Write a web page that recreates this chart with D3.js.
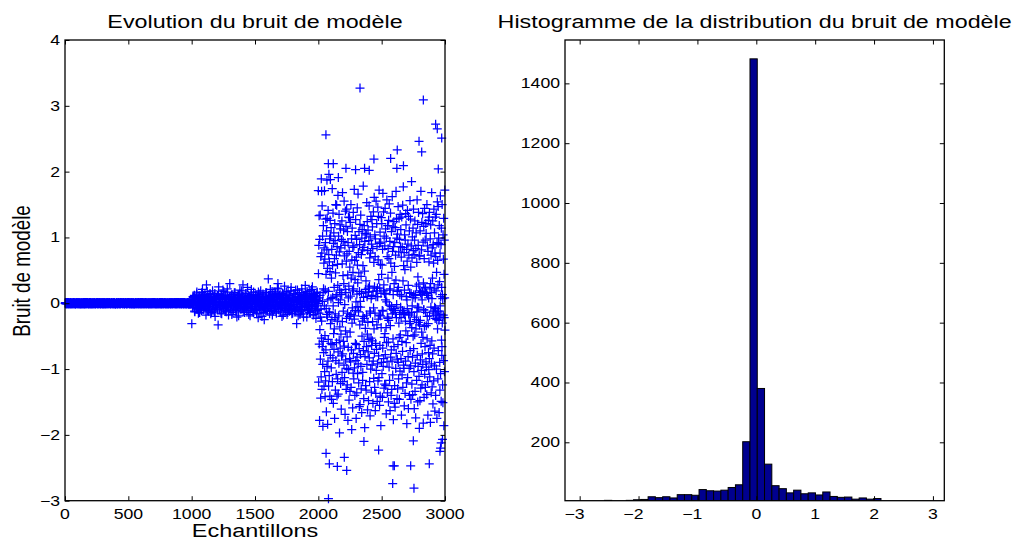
<!DOCTYPE html>
<html><head><meta charset="utf-8">
<script src="https://cdn.jsdelivr.net/npm/d3@7"></script>
<style>
body{margin:0;background:#fff}
text{font-family:"Liberation Sans",Arial,Helvetica,sans-serif;fill:#000}
</style>
</head><body>
<svg id="c" width="1019" height="540"></svg>
<script>
// ---------- DATA (left: model noise per sample, values in hundredths) ----------
// samples 1..999, every 2nd sample
const seg1Values=[
0,1,0,-1,0,0,1,-1,0,1,0,0,-1,0,1,0,-1,0,0,1,0,-1,1,0,0,
-1,0,1,0,0,-1,0,1,1,0,-1,0,0,1,0,-1,-1,0,1,0,0,1,-1,0,0,
1,0,-1,0,1,0,0,-1,1,0,0,-1,0,1,-1,0,0,1,0,-1,0,0,1,0,-1,
0,-1,1,0,0,1,-1,0,0,1,0,-1,0,0,1,1,0,-1,0,0,-1,1,0,1,0,
-1,1,0,0,-1,0,1,0,-1,0,1,0,0,-1,1,0,0,1,-1,0,0,-1,0,1,0,
0,0,1,-1,0,1,0,0,-1,1,0,0,1,0,-1,0,1,-1,0,0,1,0,0,-1,1,
1,-1,0,0,1,0,-1,1,0,0,-1,0,1,0,0,-1,1,0,0,1,-1,0,0,1,0,
0,1,-1,0,0,-1,0,1,0,1,0,-1,0,0,1,0,-1,1,0,0,1,-1,0,0,-1,
-1,0,0,1,0,1,-1,0,0,-1,1,0,0,1,0,-1,0,0,1,-1,0,1,0,0,1,
0,0,-1,1,0,0,1,0,-1,0,-1,1,0,0,1,0,0,-1,0,1,-1,0,1,0,0,
1,0,0,-1,0,1,0,-1,0,0,1,1,-1,0,0,-1,0,1,0,0,-1,1,0,-1,0,
0,-1,0,1,1,0,-1,0,0,1,0,0,-1,1,0,1,-1,0,0,0,1,-1,0,1,0,
-1,1,0,0,-1,1,0,0,1,-1,0,0,1,0,-1,0,0,1,0,-1,1,0,0,-1,0,
0,0,1,0,-1,0,1,-1,0,0,1,0,-1,0,1,0,-1,0,1,1,0,-1,0,0,1,
1,-1,0,1,0,0,-1,0,1,0,-1,0,0,1,-1,0,1,0,0,-1,0,0,1,0,-1,
0,1,0,-1,0,1,-1,0,0,1,0,-1,1,0,0,-1,0,0,1,0,1,-1,0,0,0,
-1,0,1,0,0,-1,1,0,-1,0,0,1,0,0,-1,1,0,-1,0,1,0,0,-1,1,0,
0,-1,0,0,1,0,0,1,-1,0,1,0,-1,0,0,1,-1,0,1,0,0,-1,0,1,1,
1,0,-1,0,0,1,0,-1,0,1,-1,0,0,1,0,0,-1,1,0,-1,0,1,0,0,-1,
0,0,1,-1,0,0,-1,0,1,0,0,1,-1,0,1,-1,0,0,1,0,-1,0,1,0,0];
// samples 1001..1997, every 4th sample
const seg2Values=[
-31,4,-6,9,-2,12,-13,1,6,-8,17,3,-4,-15,8,-1,11,-7,2,-11,5,21,-3,7,-9,
0,13,-5,-18,28,6,-2,10,-12,3,-6,15,-1,8,-14,4,19,-9,1,-4,11,-20,6,-3,9,
-7,12,-33,25,2,-10,7,-3,14,-16,0,9,-5,18,-8,3,-1,11,-13,6,22,-4,8,-11,1,
30,-6,10,-2,-17,5,13,-9,1,16,-4,7,-12,2,-21,9,-3,12,-7,4,20,-1,-10,6,-5,
11,28,-8,3,-14,8,-2,15,-6,0,24,-11,5,-3,10,-19,2,13,-7,7,-1,-13,17,4,-9,
6,-4,12,-16,1,9,-22,3,14,-7,-2,19,-10,5,8,-5,11,-14,-25,2,-8,16,-1,7,-12,
4,37,-6,10,-3,21,-11,1,8,-18,13,-2,6,-9,17,-5,3,-15,9,23,30,-7,-1,12,-4,
-13,7,2,-20,15,-6,9,-1,26,-10,4,-3,12,-17,0,18,-8,5,-12,11,-4,24,-9,3,-15,
8,-2,14,-11,6,20,-7,-31,1,10,-19,4,16,-5,-13,9,-1,22,-9,3,-16,12,-4,7,27,
-6,11,-21,2,15,-10,5,-3,19,-14,8,1,-8,25,-2,13,-17,6,-5,10,-23,3,16,-11,4];
// samples 1003..1999, every 4th sample
const seg2bValues=[
3,-7,10,-1,5,-12,8,0,-4,14,-9,2,6,-3,11,-14,1,7,-6,16,-2,4,-10,9,-5,
12,-3,0,-8,6,18,-11,2,-5,9,-1,13,-16,4,7,-2,-9,10,3,-13,15,-6,1,8,-4,
-10,5,14,-2,-7,9,1,-15,11,-4,3,20,-8,6,-1,12,-12,2,-6,8,17,-3,-18,5,10,
0,-9,7,13,-4,2,-14,9,-1,5,16,-7,3,-11,11,-3,6,-19,1,14,-5,8,-2,19,-8,
4,-13,10,-2,7,-6,15,1,-10,3,-3,12,-17,6,9,-1,-8,21,2,-5,11,-14,4,7,-9,
13,-2,-11,6,1,-7,17,-4,8,-15,3,10,-1,-20,5,14,-6,2,-9,11,0,-12,16,-3,6,
-5,9,2,-16,12,-3,7,-8,18,1,-12,4,-2,10,-7,15,-13,3,8,-4,22,-10,5,-1,13,
1,-8,11,-3,6,-18,14,2,-6,9,-11,17,-1,4,-14,7,-4,12,-9,2,19,-5,-16,8,3,
-3,15,-7,4,-12,10,1,-5,20,-9,6,-2,13,-17,3,8,-10,16,-1,5,-21,11,-6,2,14,
7,-4,18,-11,2,-6,12,-14,5,9,-2,21,-8,3,-18,10,-5,15,1,-12,6,-3,17,-9,0];
// samples 2001..3000, one value every 1.25 sample
const seg3Values=[
45,-120,88,-15,133,-62,8,-178,97,-40,12,134,-85,-21,-144,71,-9,-112,189,-53,
-27,76,-131,148,-66,3,102,-93,-187,16,-58,118,22,-75,61,-126,84,-4,171,-104,
67,-49,-142,20,92,-118,128,-71,44,-8,-165,110,-17,81,-96,129,-21,53,-184,5,
-88,141,-55,18,-126,74,196,-13,-110,63,-14,98,-141,48,126,-79,-31,102,-61,7,
115,-98,38,-146,82,-25,-63,174,-119,57,9,-83,137,-4,-152,91,-46,107,-70,24,
-39,68,-175,121,-22,95,-16,-132,46,150,-87,11,-108,73,-60,149,13,-141,86,-27,
59,-115,27,164,-74,-138,1,102,-19,-91,135,-56,78,-197,20,-36,119,-68,5,113,
-122,84,-47,16,-161,97,-80,13,125,-105,60,-28,168,-77,-119,42,94,-12,-58,111,
30,-94,155,-65,72,-113,-2,88,-169,21,140,-42,-86,16,117,-131,64,-23,143,-99,
75,-51,-124,109,-15,43,-178,92,-67,8,131,-101,26,-147,79,-20,130,-84,55,-134,
-44,123,11,-89,-17,150,-128,38,-71,98,-192,66,-30,114,-7,19,-159,85,47,-106,
138,-76,22,-115,87,-19,173,-24,-98,65,-140,36,103,-61,-11,127,-87,2,-175,70,
-63,97,-136,14,-82,145,58,-107,31,-5,166,-92,77,-13,-121,46,109,-69,-157,18,
89,-33,120,-154,3,-78,-6,134,-96,41,-130,74,15,-166,99,-50,112,-27,81,-117,
-105,57,-20,178,-72,9,-145,85,-58,118,-23,49,-189,94,-81,106,-38,21,-125,17,
34,-132,104,-66,-18,153,-93,10,124,-47,-162,80,-29,111,-74,23,-148,17,95,-55,
148,-83,26,-119,69,-12,-171,101,-15,76,-100,132,-53,7,-135,90,-64,12,127,-94,
-57,116,-28,83,-152,18,-88,139,-7,-114,62,-39,161,-76,25,-128,104,-15,71,-163,
98,-61,-137,10,155,-102,19,-70,121,-33,86,-149,23,-92,10,146,-118,66,-24,132,
-80,36,-113,172,-18,91,-155,23,-64,108,-141,59,-19,93,-186,15,-37,130,-90,44,
121,-107,58,-11,-143,82,-68,167,-12,-96,19,139,-84,28,-129,102,-52,15,-123,87,
-46,144,-78,5,113,-125,14,-37,-168,99,-60,2,157,-89,71,-21,-136,118,-23,38,
83,-59,-150,126,-26,68,-97,151,-3,-117,20,94,-163,22,-34,137,-82,61,-9,-140,
-71,109,-5,-131,47,-88,162,-16,79,-109,116,-54,13,-177,86,-11,124,-66,30,-152,
56,-125,92,-8,-158,115,-14,73,-99,35,170,-76,-22,128,-2,99,-145,18,-85,105,
-130,20,-63,147,-90,24,-115,78,-30,129,-52,-146,97,-17,13,-103,135,-48,86,-6,
112,-84,-22,70,-170,11,131,-58,-109,85,-11,-73,149,-128,34,-15,177,-94,57,-14,
-99,77,-156,20,104,-17,51,-137,96,-27,-88,136,-42,119,-60,10,-121,82,-183,5,
64,-8,141,-113,-49,90,-81,27,-160,132,-16,73,-18,-99,110,-140,16,-31,156,-72,
-28,128,-95,55,-146,15,87,-14,185,-37,-123,69,-4,101,-82,-139,9,114,-50,80,
143,-69,13,-104,74,-160,-21,96,-48,125,-134,8,-91,12,-174,83,-39,107,-25,26,
-117,62,-13,157,-79,-6,120,-150,40,-96,88,-29,138,-7,29,-111,72,-190,19,-33,
72,-148,110,-26,-86,16,-129,170,-61,13,-102,81,-44,123,-124,5,-77,18,136,-93,
-52,93,-182,31,-10,117,-10,-143,68,-35,144,-108,24,-66,96,-128,22,-14,121,-89,
106,-34,-97,15,-139,150,-54,-20,87,-119,12,-170,79,-31,126,-75,8,-101,63,131,
-84,138,-19,-112,24,-64,98,-181,30,119,-6,73,-136,16,-92,168,-57,7,-127,84,
38,-77,125,-153,-12,89,-15,61,-118,143,-68,22,-95,107,-6,-164,76,-23,131,-8,
-140,71,-18,19,135,-100,47,-25,-175,92,-13,154,-39,65,-115,28,147,-72,-12,99,
91,-26,-166,118,-21,33,-90,-132,76,-4,163,-107,10,-17,89,-149,114,-56,24,-79,
-66,150,-30,13,-124,7,-151,104,-18,67,-87,129,-186,44,-22,96,-104,8,172,-41];
// isolated extreme points (sample, value)
const extremeSamples=[2000,2026,2060,2061,2068,2079,2080,2087,2095,2118,2150,2158,2205,2218,2224,2294,2329,2360,2365,2402,2439,2476,2571,2587,2590,2600,2620,2623,2672,2729,2750,2755,2795,2816,2829,2876,2926,2939,2947,2960,2965,2970,2974,2980];
const extremeValues=[1.71,1.70,2.56,-2.28,1.87,2.12,-2.97,-2.44,1.88,2.12,-2.48,1.91,-2.34,2.05,-2.54,2.03,3.27,-2.10,2.05,2.02,2.19,-2.23,2.20,-2.74,-2.47,-2.47,2.05,2.33,2.09,-2.47,-2.09,-2.81,2.46,2.30,3.09,-2.44,2.72,2.65,2.04,-2.25,-2.20,-2.12,2.51,-2.07];

// ---------- DATA (right: histogram, 50 bins) ----------
const histBinStart=-2.95;
const histBinWidth=0.1236;
const histCounts=[1,0,1,6,3,4,6,8,9,18,15,18,14,25,25,23,42,38,37,40,49,58,202,1482,380,127,55,45,31,40,28,31,24,34,19,16,17,10,14,10,12,2,1,1,0,1,0,0,0,1];

// ---------- TICKS / TEXT ----------
const leftXTicks=[0,500,1000,1500,2000,2500,3000];
const leftYTicks=[-3,-2,-1,0,1,2,3,4];
const rightXTicks=[-3,-2,-1,0,1,2,3];
const rightYTicks=[200,400,600,800,1000,1200,1400];
const leftTitle="Evolution du bruit de modèle";
const rightTitle="Histogramme de la distribution du bruit de modèle";
const leftXLabel="Echantillons";
const leftYLabel="Bruit de modèle";

// ---------- DRAW ----------
const SX=1.26; // horizontal text stretch of the original figure
const svg=d3.select("#c");
svg.append("rect").attr("width",1019).attr("height",540).attr("fill","#fff");
const fmt=d3.format("d");

function label(g,x,y,txt,size,anchor,rot){
  g.append("text").attr("transform",`translate(${x},${y}) scale(${SX},1)`+(rot?` rotate(${rot})`:""))
   .attr("text-anchor",anchor).attr("font-size",size).text(txt);
}

function frame(box,xs,ys,xt,yt){
  const g=svg.append("g");
  const tl=4.5;
  g.append("g").attr("transform",`translate(0,${box.y1})`).call(d3.axisBottom(xs).tickValues(xt).tickSizeInner(-tl).tickSizeOuter(0).tickFormat(""));
  g.append("g").attr("transform",`translate(0,${box.y0})`).call(d3.axisTop(xs).tickValues(xt).tickSizeInner(-tl).tickSizeOuter(0).tickFormat(""));
  g.append("g").attr("transform",`translate(${box.x0},0)`).call(d3.axisLeft(ys).tickValues(yt).tickSizeInner(-tl).tickSizeOuter(0).tickFormat(""));
  g.append("g").attr("transform",`translate(${box.x1},0)`).call(d3.axisRight(ys).tickValues(yt).tickSizeInner(-tl).tickSizeOuter(0).tickFormat(""));
  g.selectAll(".domain").remove();
  g.selectAll(".tick line").attr("stroke","#000").attr("stroke-width",1);
  g.append("rect").attr("x",box.x0).attr("y",box.y0).attr("width",box.x1-box.x0).attr("height",box.y1-box.y0)
   .attr("fill","none").attr("stroke","#000").attr("stroke-width",1.3);
  return g;
}

// ----- left scatter -----
const LB={x0:65,x1:445,y0:40,y1:500.7};
const xL=d3.scaleLinear().domain([0,3000]).range([LB.x0,LB.x1]);
const yL=d3.scaleLinear().domain([-3,4]).range([LB.y1,LB.y0]);

const pts=[];
seg1Values.forEach((v,i)=>pts.push({s:1+i*2,v:v/100}));
seg2Values.forEach((v,i)=>pts.push({s:1001+i*4,v:v/100}));
seg2bValues.forEach((v,i)=>pts.push({s:1003+i*4,v:v/100}));
seg3Values.forEach((v,i)=>pts.push({s:2001+i*1.25,v:v/100}));
extremeSamples.forEach((s,i)=>pts.push({s:s,v:extremeValues[i]}));

svg.append("g").selectAll("path").data(pts).join("path")
  .attr("transform",d=>`translate(${xL(d.s)},${yL(d.v)})`)
  .attr("d","M-4.5,0H4.5M0,-4.5V4.5")
  .attr("stroke","#0000ff").attr("stroke-width",1.25).attr("fill","none");

const gl=frame(LB,xL,yL,leftXTicks,leftYTicks);
leftXTicks.forEach(t=>label(gl,xL(t),518.5,fmt(t),14,"middle"));
leftYTicks.forEach(t=>label(gl,60,yL(t)+5,fmt(t),14,"end"));
label(gl,(LB.x0+LB.x1)/2,28.3,leftTitle,18.5,"middle");
label(gl,(LB.x0+LB.x1)/2,536.5,leftXLabel,18.6,"middle");
label(gl,30,271,leftYLabel,18.8,"middle",-90);

// ----- right histogram -----
const RB={x0:565,x1:944.3,y0:40,y1:500.7};
const xR=d3.scaleLinear().domain([-3.249,3.193]).range([RB.x0,RB.x1]);
const yR=d3.scaleLinear().domain([4.8,1545]).range([RB.y1,RB.y0]);

svg.append("clipPath").attr("id","clipR").append("rect")
  .attr("x",RB.x0).attr("y",RB.y0).attr("width",RB.x1-RB.x0).attr("height",RB.y1-RB.y0);

const bins=histCounts.map((c,k)=>({a:histBinStart+k*histBinWidth,b:histBinStart+(k+1)*histBinWidth,c:c}));
svg.append("g").attr("clip-path","url(#clipR)").selectAll("rect").data(bins).join("rect")
  .attr("x",d=>xR(d.a)).attr("width",d=>xR(d.b)-xR(d.a))
  .attr("y",d=>yR(Math.max(d.c,yR.domain()[0])))
  .attr("height",d=>yR(yR.domain()[0])-yR(Math.max(d.c,yR.domain()[0])))
  .attr("fill","#00008f").attr("stroke","#000").attr("stroke-width",1);

const gr=frame(RB,xR,yR,rightXTicks,rightYTicks);
rightXTicks.forEach(t=>label(gr,xR(t)+0.278*14*SX,518.5,fmt(t),14,"end"));
rightYTicks.forEach(t=>label(gr,560,yR(t)+5,fmt(t),14,"end"));
label(gr,(RB.x0+RB.x1)/2,28.3,rightTitle,18.5,"middle");
</script>
</body></html>
